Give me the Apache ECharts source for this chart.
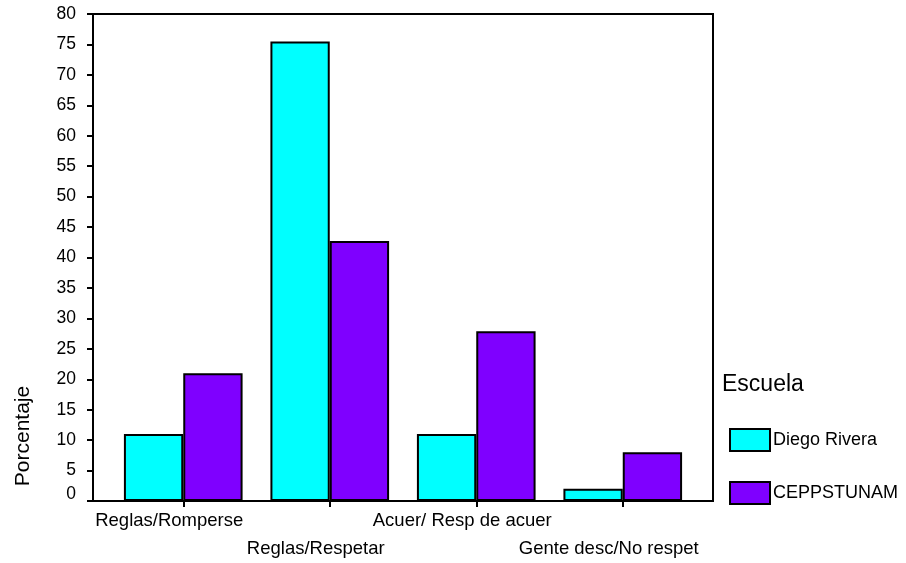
<!DOCTYPE html>
<html>
<head>
<meta charset="utf-8">
<script src="https://cdn.jsdelivr.net/npm/echarts@6/dist/echarts.min.js"></script>
<style>html,body{margin:0;padding:0;background:#fff}#c{width:906px;height:563px}</style>
</head>
<body>
<div id="c"></div>
<script>
const categories = ['Reglas/Romperse', 'Reglas/Respetar', 'Acuer/ Resp de acuer', 'Gente desc/No respet'];
const seriesNames = ['Diego Rivera', 'CEPPSTUNAM'];
const diegoRivera = [11, 75.5, 11, 2];
const ceppstunam = [21, 42.7, 27.9, 8];
const yMin = 0, yMax = 80, yStep = 5;
const yTitle = 'Porcentaje';
const legendTitle = 'Escuela';

const FONT = '"Liberation Sans", Arial, sans-serif';
const chart = echarts.init(document.getElementById('c'), null, {renderer: 'canvas'});
const gridTop = 14, gridBottom = 62;
chart.setOption({
  animation: false,
  backgroundColor: '#fff',
  textStyle: {fontFamily: FONT, color: '#000'},
  title: {
    text: legendTitle, left: 722, top: 373, padding: 0,
    textStyle: {fontFamily: FONT, fontSize: 23, fontWeight: 'normal', color: '#000'}
  },
  graphic: [{
    type: 'text', x: 23, y: 436, rotation: Math.PI / 2,
    style: {text: yTitle, fontFamily: FONT, fontSize: 21, fill: '#000', align: 'center', verticalAlign: 'middle'}
  }],
  legend: {
    orient: 'vertical', left: 729, top: 428, padding: 0,
    itemWidth: 40, itemHeight: 22, itemGap: 29,
    icon: 'rect',
    textStyle: {fontFamily: FONT, fontSize: 18, color: '#000', padding: [0, 0, 0, -2]},
    data: seriesNames
  },
  grid: [
    {left: 93, right: 193, top: gridTop, bottom: gridBottom, show: true, borderColor: '#000', borderWidth: 2, backgroundColor: 'transparent'},
    {left: 110, right: 210, top: gridTop, bottom: gridBottom}
  ],
  xAxis: [
    {gridIndex: 0, type: 'value', min: 0, max: 1, show: false},
    {
      gridIndex: 1, type: 'category', data: categories, boundaryGap: true,
      axisLine: {show: false},
      axisTick: {show: true, alignWithLabel: true, length: 6, lineStyle: {color: '#000', width: 2}},
      axisLabel: {
        interval: 0, margin: 10, fontFamily: FONT, fontSize: 18.5, color: '#000',
        formatter: (v, i) => (i % 2 ? '{b|' + v + '}' : '{a|' + v + '}'),
        rich: {
          a: {fontFamily: FONT, fontSize: 18.5, color: '#000', padding: [0, 28, 0, 0]},
          b: {fontFamily: FONT, fontSize: 18.5, color: '#000', padding: [28, 28, 0, 0]}
        }
      },
      splitLine: {show: false}
    }
  ],
  yAxis: [
    {
      gridIndex: 0, type: 'value', min: yMin, max: yMax, interval: yStep,
      axisLine: {show: true, lineStyle: {color: '#000', width: 2}},
      axisTick: {show: true, length: 6, lineStyle: {color: '#000', width: 2}},
      axisLabel: {
        margin: 17, fontFamily: FONT, fontSize: 17.5, color: '#000',
        formatter: v => (v === 0 ? '{z|0}' : String(v)),
        rich: {z: {fontFamily: FONT, fontSize: 17.5, color: '#000', padding: [0, 0, 14, 0]}}
      },
      splitLine: {show: false}
    },
    {gridIndex: 1, type: 'value', min: yMin, max: yMax, interval: yStep, show: false}
  ],
  series: [
    {
      name: seriesNames[0], type: 'bar', xAxisIndex: 1, yAxisIndex: 1, data: diegoRivera,
      barWidth: '40.5%', barGap: '0%',
      itemStyle: {color: '#00FFFF', borderColor: '#000', borderWidth: 2}
    },
    {
      name: seriesNames[1], type: 'bar', xAxisIndex: 1, yAxisIndex: 1, data: ceppstunam,
      barWidth: '40.5%', barGap: '0%',
      itemStyle: {color: '#7F00FF', borderColor: '#000', borderWidth: 2}
    }
  ]
});
</script>
</body>
</html>
